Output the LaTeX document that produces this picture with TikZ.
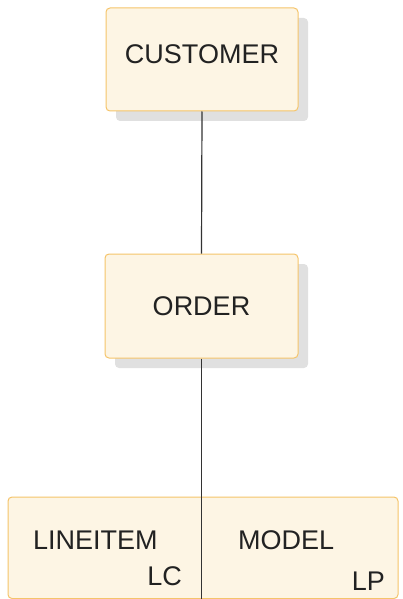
\documentclass[tikz,border=0pt]{standalone}
\usepackage{fontspec}
\setmainfont{Liberation Sans}
\usepackage{xcolor}
\usepackage{tikz}
\usetikzlibrary{positioning,shadows}

\definecolor{segfill}{HTML}{FDF5E4}
\definecolor{segdraw}{HTML}{F5C46A}
\definecolor{segtext}{HTML}{222222}

\begin{document}
\begin{tikzpicture}[
    x=1pt, y=1pt,
    node distance=140pt,
    segment/.style={rectangle, rounded corners=4pt, minimum width=192pt, minimum height=103pt, draw=segdraw, line width=1pt, fill=segfill, text=segtext, font=\fontsize{27}{31}\selectfont},
    shadowed/.style={drop shadow={shadow xshift=10pt, shadow yshift=-10pt, fill=black!12, opacity=1}},
    label/.style={inner sep=0pt, text=segtext, font=\fontsize{27}{31}\selectfont},
    link/.style={draw=black!80, line width=1.2pt}
]
    \useasboundingbox (0,0) rectangle (402,-599);

    \node[segment, shadowed, text depth=10pt] (customer) at (202,-59.5) {CUSTOMER};
    \node[segment, shadowed, below=142pt of customer, xshift=-0.5pt, minimum width=193pt, minimum height=104pt] (order) {ORDER};
    \node[segment, below=138pt of order, xshift=1.5pt, minimum width=390pt, minimum height=101.5pt] (pair) {};

    \node[label, anchor=base west] (lineitem) at (33,-549) {LINEITEM};
    \node[label, anchor=base west] (model) at (238,-549) {MODEL};
    \node[label, anchor=base east] (lc) at (182,-585) {LC};
    \node[label, anchor=base east] (lp) at (385,-590) {LP};

    \draw[link] (customer.south) -- (order.north);
    \draw[link] (order.south) -- (order.south |- pair.south);

\end{tikzpicture}
\end{document}
